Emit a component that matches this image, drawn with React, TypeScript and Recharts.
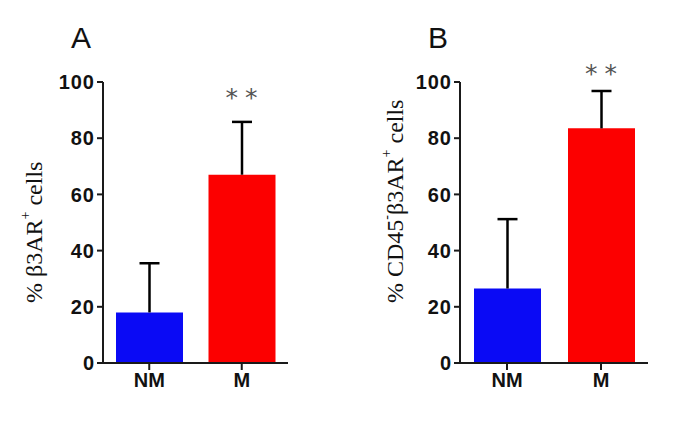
import React from "react";
import { BarChart, Bar, XAxis, YAxis, Cell, LabelList, Label } from "recharts";

const categories = ["NM", "M"];
const meansA = [18, 67];
const errorsA = [17.5, 18.8];
const meansB = [26.5, 83.5];
const errorsB = [24.7, 13.3];
const significance = ["", "**"];
const yTicks = [0, 20, 40, 60, 80, 100];
const barColors = ["#0a0af5", "#fc0000"];

const axisColor = "#1a1a1a";
const tickStyle = { fontFamily: "Liberation Sans, Arial, sans-serif", fontWeight: 700, fontSize: 20, fill: "#111" };

const ErrorShape = (props: any) => {
  const { x, y, width, height } = props;
  const cx = x + width / 2;
  return (
    <g>
      <line x1={cx} y1={y + height} x2={cx} y2={y} stroke="#000" strokeWidth={2.5} />
      <line x1={cx - 10} y1={y} x2={cx + 10} y2={y} stroke="#000" strokeWidth={2.5} />
    </g>
  );
};

function Panel({ means, errors, left, marginLeft, marginRight, labelParts, labelX, sigOffset, letter }: any) {
  const data = categories.map((c, i) => ({ name: c, mean: means[i], err: errors[i], sig: significance[i] }));
  return (
    <div style={{ position: "absolute", left, top: 0, width: 340, height: 433 }}>
      <div style={{ position: "absolute", left: marginLeft + 60 - 32, top: 21, fontFamily: "Liberation Sans, Arial, sans-serif", fontSize: 30, color: "#111" }}>
        {letter}
      </div>
      <BarChart width={340} height={433} data={data} margin={{ top: 82, right: marginRight, bottom: 30, left: marginLeft }} barSize={67}>
        <XAxis
          dataKey="name"
          height={40}
          tickSize={7}
          tickMargin={3}
          axisLine={{ stroke: axisColor, strokeWidth: 2 }}
          tickLine={{ stroke: axisColor, strokeWidth: 2 }}
          tick={tickStyle}
        />
        <YAxis
          width={60}
          domain={[0, 100]}
          ticks={yTicks}
          interval={0}
          tickSize={6}
          tickMargin={2}
          axisLine={{ stroke: axisColor, strokeWidth: 2 }}
          tickLine={{ stroke: axisColor, strokeWidth: 2 }}
          tick={{ ...tickStyle, letterSpacing: 1 }}
        >
          <Label
            content={() => {
              const lx = labelX;
              const ly = 303;
              return (
                <text
                  x={lx}
                  y={ly}
                  transform={`rotate(-90, ${lx}, ${ly})`}
                  textAnchor="start"
                  dominantBaseline="central"
                  fontFamily="Liberation Serif, Times New Roman, serif"
                  fontSize={24}
                  fill="#111"
                >
                  {labelParts.map((p: any, i: number) =>
                    p.sup ? (
                      <tspan key={i} fontSize={14} dy={-9}>{p.t}</tspan>
                    ) : (
                      <tspan key={i} dy={i > 0 && labelParts[i - 1].sup ? 9 : 0}>{p.t}</tspan>
                    )
                  )}
                </text>
              );
            }}
          />
        </YAxis>
        <Bar dataKey="mean" stackId="s" isAnimationActive={false}>
          {data.map((d, i) => (
            <Cell key={d.name} fill={barColors[i]} />
          ))}
        </Bar>
        <Bar dataKey="err" stackId="s" isAnimationActive={false} shape={<ErrorShape />}>
          <LabelList
            dataKey="sig"
            content={(p: any) =>
              p.value ? (
                <text
                  x={p.x + p.width / 2 + 3}
                  y={p.y - sigOffset}
                  textAnchor="middle"
                  dominantBaseline="central"
                  fontFamily="DejaVu Sans, sans-serif"
                  fontSize={25}
                  letterSpacing={7}
                  fill="#555"
                >
                  {p.value}
                </text>
              ) : null
            }
          />
        </Bar>
      </BarChart>
    </div>
  );
}

export default function App() {
  return (
    <div style={{ position: "absolute", left: 0, top: 0, width: 679, height: 433, background: "#fff", overflow: "hidden" }}>
      <Panel
        means={meansA}
        errors={errorsA}
        left={0}
        marginLeft={43}
        marginRight={52}
        labelX={34}
        sigOffset={24}
        letter="A"
        labelParts={[{ t: "% β3AR" }, { t: "+", sup: true }, { t: " cells" }]}
      />
      <Panel
        means={meansB}
        errors={errorsB}
        left={340}
        marginLeft={60}
        marginRight={32}
        labelX={55}
        sigOffset={17}
        letter="B"
        labelParts={[{ t: "% CD45" }, { t: "-", sup: true }, { t: "β3AR" }, { t: "+", sup: true }, { t: " cells" }]}
      />
    </div>
  );
}
